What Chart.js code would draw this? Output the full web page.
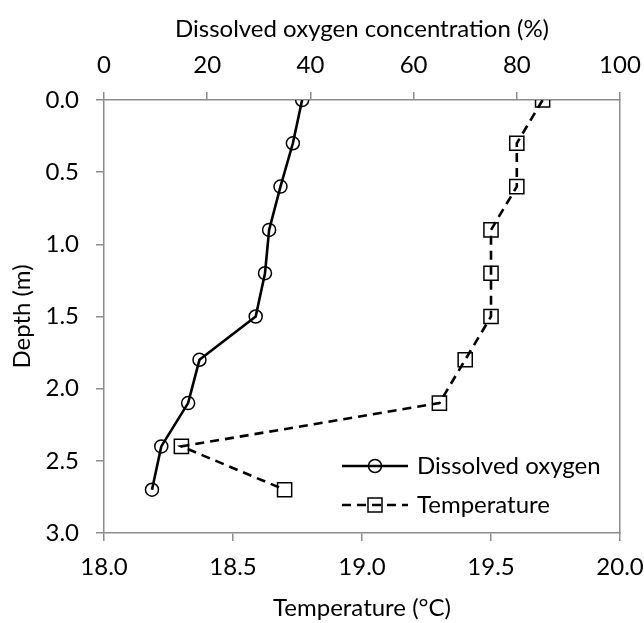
<!DOCTYPE html>
<html>
<head>
<meta charset="utf-8">
<script src="https://cdn.jsdelivr.net/npm/chart.js@4.4.1/dist/chart.umd.min.js"></script>
<style>
  body { margin: 0; background: #fff; }
</style>
</head>
<body>
<canvas id="profile" width="644" height="623"></canvas>
<script>
// Depth profile: dissolved oxygen (top axis) and temperature (bottom axis)
var depth = [0, 0.3, 0.6, 0.9, 1.2, 1.5, 1.8, 2.1, 2.4, 2.7];
var oxygen = [38.4, 36.6, 34.2, 32.0, 31.2, 29.4, 18.5, 16.3, 11.1, 9.3];
var temperature = [19.7, 19.6, 19.6, 19.5, 19.5, 19.5, 19.4, 19.3, 18.3, 18.7];
var seriesNames = ['Dissolved oxygen', 'Temperature'];
var topTitle = 'Dissolved oxygen concentration (%)';
var bottomTitle = 'Temperature (\u00B0C)';
var leftTitle = 'Depth (m)';

var axisGray = '#8c8c8c';
var font = { family: 'Lato', size: 24 };

function pairs(xs) {
    return xs.map(function (v, i) { return { x: v, y: depth[i] }; });
}

// keep the plot box fixed even when end labels overhang
function fixHeight(h) {
    return function (s) { s.height = h; s.paddingLeft = 0; s.paddingRight = 0; };
}
function fixWidth(w) {
    return function (s) { s.width = w; s.paddingTop = 0; s.paddingBottom = 0; };
}

// legend drawn inside the plot, bottom right, like the Excel original
var legendInside = {
    id: 'legendInside',
    afterDraw: function (chart) {
        var ctx = chart.ctx;
        var rows = [
            { y: 466, dash: [], style: 'circle' },
            { y: 505, dash: [9, 6], style: 'rect' }
        ];
        ctx.save();
        rows.forEach(function (r, i) {
            ctx.strokeStyle = '#000';
            ctx.lineWidth = 2.5;
            ctx.setLineDash(r.dash);
            ctx.beginPath();
            ctx.moveTo(342, r.y);
            ctx.lineTo(408, r.y);
            ctx.stroke();
            ctx.setLineDash([]);
            ctx.lineWidth = 1.5;
            ctx.beginPath();
            if (r.style === 'circle') {
                ctx.arc(375, r.y, 6.5, 0, Math.PI * 2);
            } else {
                ctx.rect(368, r.y - 7, 14, 14);
            }
            ctx.stroke();
            ctx.fillStyle = '#000';
            ctx.font = font.size + 'px ' + font.family;
            ctx.textBaseline = 'middle';
            ctx.textAlign = 'left';
            ctx.fillText(seriesNames[i], 417, r.y);
        });
        ctx.restore();
    }
};

var ctx = document.getElementById('profile').getContext('2d');
var profileChart = new Chart(ctx, {
    type: 'scatter',
    data: {
        datasets: [{
            label: seriesNames[0],
            data: pairs(oxygen),
            xAxisID: 'x2',
            showLine: true,
            borderColor: '#000',
            borderWidth: 2.6,
            pointStyle: 'circle',
            pointRadius: 6.5,
            pointBorderWidth: 1.5,
            pointBorderColor: '#000',
            pointBackgroundColor: 'rgba(0,0,0,0)'
        }, {
            label: seriesNames[1],
            data: pairs(temperature),
            xAxisID: 'x',
            showLine: true,
            borderColor: '#000',
            borderWidth: 2.6,
            borderDash: [9, 6],
            pointStyle: 'rect',
            pointRadius: 10,
            pointBorderWidth: 1.5,
            pointBorderColor: '#000',
            pointBackgroundColor: 'rgba(0,0,0,0)'
        }]
    },
    options: {
        responsive: false,
        animation: false,
        layout: { padding: 0 },
        plugins: {
            legend: { display: false },
            tooltip: { enabled: false }
        },
        scales: {
            x: {
                position: 'bottom',
                min: 18, max: 20,
                afterFit: fixHeight(90),
                border: { color: axisGray, width: 1.5 },
                grid: { drawOnChartArea: false, color: axisGray, tickLength: 8, lineWidth: 1.5 },
                ticks: {
                    stepSize: 0.5, color: '#000', font: font, padding: 12,
                    maxRotation: 0,
                    callback: function (v) { return Number(v).toFixed(1); }
                },
                title: { display: true, text: bottomTitle, color: '#000', font: font, padding: { top: 0, bottom: 0 } }
            },
            x2: {
                position: 'top',
                min: 0, max: 100,
                afterFit: fixHeight(100),
                border: { color: axisGray, width: 1.5 },
                grid: { drawOnChartArea: false, color: axisGray, tickLength: 8, lineWidth: 1.5 },
                ticks: { stepSize: 20, color: '#000', font: font, padding: 12, maxRotation: 0 },
                title: { display: true, text: topTitle, color: '#000', font: font, padding: { top: 15, bottom: 0 } }
            },
            y: {
                position: 'left',
                reverse: true,
                min: 0, max: 3,
                afterFit: fixWidth(104),
                border: { color: axisGray, width: 1.5 },
                grid: { drawOnChartArea: false, color: axisGray, tickLength: 8, lineWidth: 1.5 },
                ticks: {
                    stepSize: 0.5, color: '#000', font: font, padding: 17,
                    callback: function (v) { return Number(v).toFixed(1); }
                },
                title: { display: true, text: leftTitle, color: '#000', font: font, padding: { top: 8, bottom: 0 } }
            },
            y2: {
                position: 'right',
                reverse: true,
                min: 0, max: 3,
                afterFit: fixWidth(24),
                border: { color: axisGray, width: 1.5 },
                grid: { drawOnChartArea: false, drawTicks: false },
                ticks: { display: false }
            }
        }
    },
    plugins: [legendInside]
});
</script>
</body>
</html>
